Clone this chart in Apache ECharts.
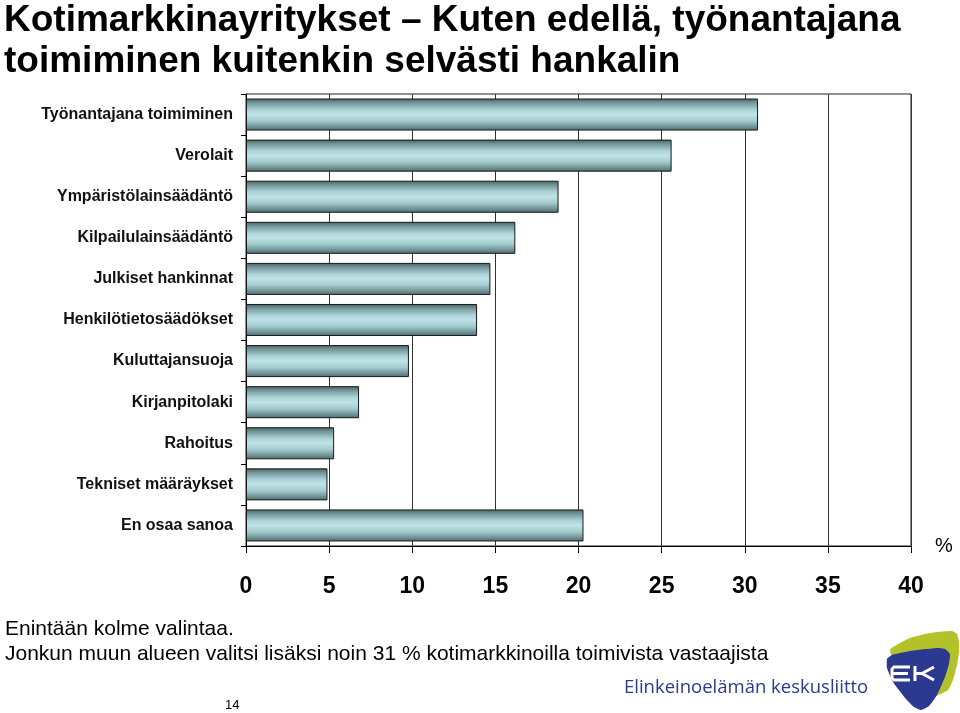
<!DOCTYPE html>
<html>
<head>
<meta charset="utf-8">
<script src="https://cdn.jsdelivr.net/npm/echarts@6/dist/echarts.min.js"></script>
<style>
html,body{margin:0;padding:0;background:#fff;}
#chart{width:960px;height:713px;}
</style>
</head>
<body>
<div id="chart"></div>
<script>
var categories = [
  'Työnantajana toimiminen',
  'Verolait',
  'Ympäristölainsäädäntö',
  'Kilpailulainsäädäntö',
  'Julkiset hankinnat',
  'Henkilötietosäädökset',
  'Kuluttajansuoja',
  'Kirjanpitolaki',
  'Rahoitus',
  'Tekniset määräykset',
  'En osaa sanoa'
];
var values = [30.8, 25.6, 18.8, 16.2, 14.7, 13.9, 9.8, 6.8, 5.3, 4.9, 20.3];
var xTicks = [0, 5, 10, 15, 20, 25, 30, 35, 40];

var titleLines = ['Kotimarkkinayritykset – Kuten edellä, työnantajana', 'toimiminen kuitenkin selvästi hankalin'];
var notes = ['Enintään kolme valintaa.', 'Jonkun muun alueen valitsi lisäksi noin 31 % kotimarkkinoilla toimivista vastaajista'];

var chart = echarts.init(document.getElementById('chart'), null, {renderer: 'canvas'});

var barGradient = {
  type: 'linear', x: 0, y: 0, x2: 0, y2: 1,
  colorStops: [
    {offset: 0, color: '#43615f'},
    {offset: 0.12, color: '#6f9194'},
    {offset: 0.35, color: '#acd3d7'},
    {offset: 0.5, color: '#bfe3e6'},
    {offset: 0.7, color: '#a3cacd'},
    {offset: 0.9, color: '#6b8c8f'},
    {offset: 1, color: '#4a6a6d'}
  ]
};

var logoYellow = [[890,650],[900,643],[910,638],[925,634],[937,632],[952,631],[957,634],[959,642],[959,652],[957,665],[953,680],[948,690],[935,696],[905,690]];
var logoBlue = [[887,659],[892,655],[910,651],[937,648],[945,649],[950,654],[949,664],[945,677],[937,695],[929,706],[921,710],[914,707],[906,699],[893,682],[887,668]];

var option = {
  backgroundColor: '#ffffff',
  animation: false,
  grid: {
    left: 246, top: 94, right: 49, bottom: 167,
    show: true, borderColor: '#222', borderWidth: 1, backgroundColor: 'transparent'
  },
  xAxis: {
    type: 'value',
    min: xTicks[0],
    max: xTicks[xTicks.length - 1],
    interval: 5,
    name: '%',
    nameLocation: 'end',
    nameGap: 24,
    nameTextStyle: {fontFamily: 'Liberation Sans', fontSize: 20, color: '#000', verticalAlign: 'middle'},
    axisLine: {show: true, lineStyle: {color: '#000', width: 1}},
    axisTick: {show: true, length: 7, lineStyle: {color: '#000'}},
    axisLabel: {
      margin: 29,
      fontFamily: 'Liberation Sans',
      fontWeight: 'bold',
      fontSize: 23,
      color: '#000'
    },
    splitLine: {show: true, lineStyle: {color: '#333', width: 1}}
  },
  yAxis: {
    type: 'category',
    data: categories,
    inverse: true,
    axisLine: {show: true, lineStyle: {color: '#000', width: 1}},
    axisTick: {show: true, length: 5, lineStyle: {color: '#000'}},
    axisLabel: {
      margin: 13,
      fontFamily: 'Liberation Sans',
      fontWeight: 'bold',
      fontSize: 16,
      color: '#111'
    },
    splitLine: {show: false}
  },
  series: [{
    type: 'bar',
    data: values,
    barCategoryGap: '22%',
    itemStyle: {
      color: barGradient,
      borderColor: '#1a1a1a',
      borderWidth: 1
    }
  }],
  graphic: [
    {type: 'text', x: 4, y: 2, style: {text: titleLines[0], font: 'bold 37px "Liberation Sans"', fill: '#000'}},
    {type: 'text', x: 4, y: 43, style: {text: titleLines[1], font: 'bold 37px "Liberation Sans"', fill: '#000'}},
    {type: 'text', x: 5, y: 619, style: {text: notes[0], font: '21px "Liberation Sans"', fill: '#000'}},
    {type: 'text', x: 5, y: 644, style: {text: notes[1], font: '21px "Liberation Sans"', fill: '#000'}},
    {type: 'text', x: 225, y: 699, style: {text: '14', font: '13px "Liberation Sans"', fill: '#000'}},
    {type: 'text', x: 624, y: 678, style: {text: 'Elinkeinoelämän keskusliitto', font: '18.5px "Open Sans"', fill: '#2b3a8c'}},
    {type: 'polygon', shape: {points: logoYellow, smooth: 0.15}, style: {fill: '#b3c22b'}},
    {type: 'polygon', shape: {points: logoBlue, smooth: 0.15}, style: {fill: '#2b3990'}},
    {type: 'polyline', shape: {points: [[910,667],[894,667],[892,669],[892,678],[894,680],[910,680]]}, style: {stroke: '#fff', lineWidth: 3, fill: null}},
    {type: 'polyline', shape: {points: [[892,673.5],[908,673.5]]}, style: {stroke: '#fff', lineWidth: 3, fill: null}},
    {type: 'polyline', shape: {points: [[915,666],[915,681]]}, style: {stroke: '#fff', lineWidth: 3, fill: null}},
    {type: 'polyline', shape: {points: [[934,667],[922,673.5],[934,680]]}, style: {stroke: '#fff', lineWidth: 3, fill: null}},
    {type: 'polyline', shape: {points: [[915,673.5],[922,673.5]]}, style: {stroke: '#fff', lineWidth: 3, fill: null}}
  ]
};
chart.setOption(option);
</script>
</body>
</html>
